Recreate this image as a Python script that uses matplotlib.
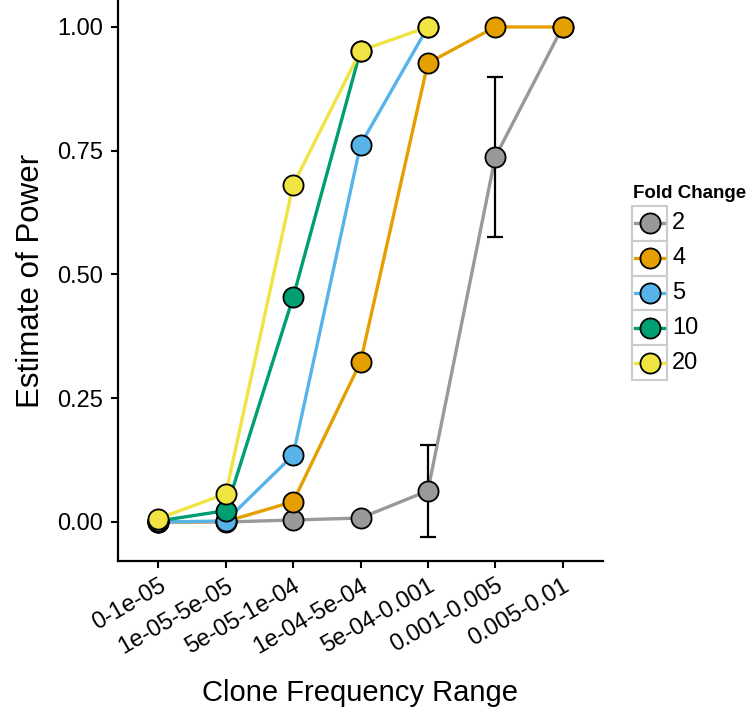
import matplotlib
matplotlib.use("Agg")
import matplotlib.pyplot as plt
from matplotlib.patches import Rectangle
import numpy as np

plt.rcParams['font.family'] = ['Liberation Sans', 'DejaVu Sans']

categories = ['0-1e-05', '1e-05-5e-05', '5e-05-1e-04', '1e-04-5e-04',
              '5e-04-0.001', '0.001-0.005', '0.005-0.01']
nan = np.nan

# power estimates per fold change
fc2 = [0.0, 0.0, 0.004, 0.008, 0.063, 0.737, 1.0]
fc2_err = [nan, nan, nan, 0.011, 0.093, 0.161, nan]
fc4 = [0.0, 0.001, 0.041, 0.323, 0.927, 1.0, 1.0]
fc5 = [0.0, 0.002, 0.135, 0.762, 1.0, nan, nan]
fc10 = [0.002, 0.023, 0.454, 0.952, nan, nan, nan]
fc20 = [0.007, 0.057, 0.681, 0.952, 1.0, nan, nan]

labels = ['2', '4', '5', '10', '20']
series = [fc2, fc4, fc5, fc10, fc20]
colors = ['#999999', '#E69F00', '#56B4E9', '#009E73', '#F0E442']

W, H = 750, 713
fig = plt.figure(figsize=(W / 100, H / 100), dpi=100)
ax = fig.add_axes([118 / W, (H - 561) / H, (603 - 118) / W, 561 / H])

x = np.arange(len(categories))
for vals, c in zip(series, colors):
    ax.plot(x, vals, color=c, lw=2.4, zorder=2, solid_capstyle='butt')

ax.errorbar(x, fc2, yerr=fc2_err, fmt='none', ecolor='black', elinewidth=1.6,
            capsize=6, capthick=1.6, zorder=3)

for vals, c in zip(series, colors):
    ax.plot(x, vals, 'o', ms=14.5, mfc=c, mec='black', mew=1.3, zorder=4)

ax.set_xlim(-0.6, len(categories) - 0.4)
ax.set_ylim(-0.0788, 1.0545)
ax.set_xticks(x)
ax.set_xticklabels(categories, rotation=30, ha='right', rotation_mode='anchor',
                   fontsize=17)
ax.set_yticks([0, 0.25, 0.5, 0.75, 1.0])
ax.set_yticklabels(['0.00', '0.25', '0.50', '0.75', '1.00'], fontsize=17)
ax.tick_params(length=5, width=1.5, color='black', labelcolor='black')
ax.tick_params(axis='y', pad=6)
ax.tick_params(axis='x', pad=5)
for s in ['top', 'right']:
    ax.spines[s].set_visible(False)
for s in ['left', 'bottom']:
    ax.spines[s].set_linewidth(1.6)
ax.set_ylabel('Estimate of Power', fontsize=22.5, labelpad=8)
ax.set_xlabel('Clone Frequency Range', fontsize=21, labelpad=15)

# legend drawn as keyed boxes like ggplot
lax = fig.add_axes([632 / W, (H - 380) / H, 35 / W, 174 / H])
lax.set_xlim(0, 1)
lax.set_ylim(0, len(labels))
lax.axis('off')
for i, (lab, c) in enumerate(zip(labels, colors)):
    yy = len(labels) - i - 0.5
    lax.add_patch(Rectangle((0, yy - 0.5), 1, 1, fill=False, ec='#cccccc', lw=1.5,
                            clip_on=False))
    lax.plot([0.08, 0.92], [yy, yy], color=c, lw=2.4, clip_on=False)
    lax.plot([0.5], [yy], 'o', ms=14.5, mfc=c, mec='black', mew=1.3, clip_on=False)
    lax.text(1.15, yy, lab, fontsize=17, va='center', ha='left')
fig.text(633 / W, 1 - 198 / H, 'Fold Change', fontsize=13.5, fontweight='bold',
         ha='left', va='baseline')

fig.savefig('out.png', dpi=100)
